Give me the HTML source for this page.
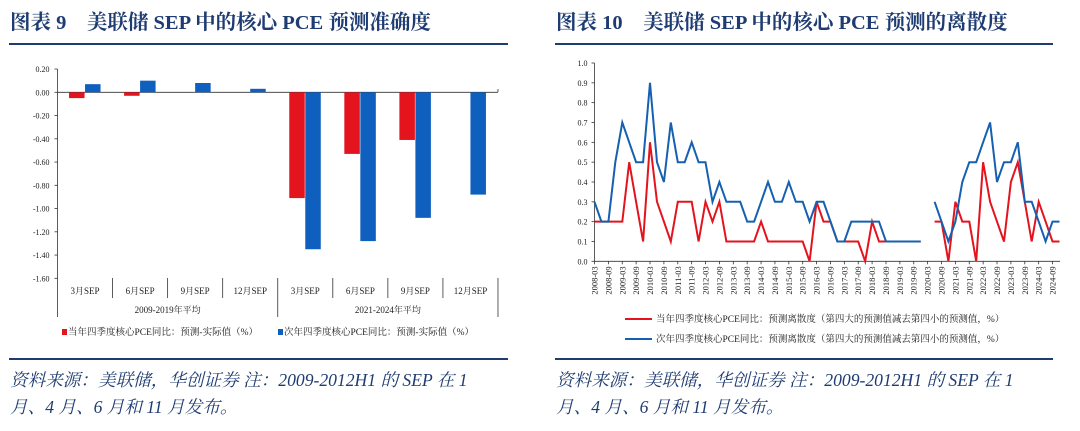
<!DOCTYPE html>
<html><head><meta charset="utf-8">
<style>
body{margin:0;background:#fff;width:1080px;height:431px;overflow:hidden;}
svg{display:block}
.t{font-family:"Liberation Serif","Noto Serif CJK SC",serif;font-weight:bold;font-size:20.5px;fill:#1f3c72}
.f{font-family:"Liberation Serif","Noto Serif CJK SC",serif;font-style:italic;font-size:17.6px;fill:#1f3c72}
.a{font-family:"Liberation Serif","Noto Serif CJK SC",serif;font-size:8px;fill:#222}
.c{font-family:"Liberation Serif","Noto Serif CJK SC",serif;font-size:9px;fill:#222}
.l{font-family:"Liberation Serif","Noto Serif CJK SC",serif;font-size:9.5px;fill:#222}
</style></head><body>
<svg id="s" width="1080" height="431" xmlns="http://www.w3.org/2000/svg">
<text class="t" x="10" y="29">图表 9　美联储 SEP 中的核心 PCE 预测准确度</text>
<text class="t" x="556" y="29">图表 10　美联储 SEP 中的核心 PCE 预测的离散度</text>
<rect x="9" y="43" width="499" height="2" fill="#1f3c72"/>
<rect x="555" y="43" width="498" height="2" fill="#1f3c72"/>
<rect x="9" y="358" width="499" height="2" fill="#1f3c72"/>
<rect x="555" y="358" width="498" height="2" fill="#1f3c72"/>
<text class="f" x="10" y="386">资料来源：美联储，华创证券 注：2009-2012H1 的 SEP 在 1</text>
<text class="f" x="10" y="413">月、4 月、6 月和 11 月发布。</text>
<text class="f" x="556" y="386">资料来源：美联储，华创证券 注：2009-2012H1 的 SEP 在 1</text>
<text class="f" x="556" y="413">月、4 月、6 月和 11 月发布。</text>
<g id="L"></g><g id="R"></g>
</svg>
<script>
var NS="http://www.w3.org/2000/svg";
function el(p,n,a,t){var e=document.createElementNS(NS,n);for(var k in a)e.setAttribute(k,a[k]);if(t!=null)e.textContent=t;p.appendChild(e);return e;}
var L=document.getElementById('L');
var y0=92.3,sc=116.25,x0=57.5,cw=55.06;
function yv(v){return y0-v*sc;}
el(L,'line',{x1:x0,y1:69,x2:x0,y2:317,stroke:'#333','stroke-width':0.8});
for(var i=0;i<10;i++){var v=0.2-0.2*i,y=yv(v);el(L,'line',{x1:x0-3,y1:y,x2:x0,y2:y,stroke:'#333','stroke-width':0.8});
el(L,'text',{x:x0-8,y:y+3,'text-anchor':'end','class':'a'},v.toFixed(2).replace('-0.00','0.00'));}
el(L,'line',{x1:x0,y1:y0,x2:498,y2:y0,stroke:'#333','stroke-width':0.8});
var red=[-0.05,-0.03,0,0,-0.91,-0.53,-0.41,0],blue=[0.07,0.10,0.08,0.03,-1.35,-1.28,-1.08,-0.88];
var labs=['3月SEP','6月SEP','9月SEP','12月SEP'];
for(var i=0;i<8;i++){var c=x0+cw*i+cw/2;
if(red[i])el(L,'rect',{x:c-16,y:Math.min(y0,yv(red[i])),width:15.5,height:Math.abs(red[i]*sc),fill:'#e3141e'});
el(L,'rect',{x:c,y:Math.min(y0,yv(blue[i])),width:15.5,height:Math.abs(blue[i]*sc),fill:'#0f5fbf'});
el(L,'text',{x:c,y:294,'text-anchor':'middle','class':'c'},labs[i%4]);
var xs=x0+cw*(i+1);el(L,'line',{x1:xs,y1:278,x2:xs,y2:(i==3||i==7)?317:298,stroke:'#333','stroke-width':0.8});}
el(L,'line',{x1:498,y1:89,x2:498,y2:92,stroke:'#333','stroke-width':0.8});
el(L,'text',{x:x0+cw*2,y:313,'text-anchor':'middle','class':'c'},'2009-2019年平均');
el(L,'text',{x:x0+cw*6,y:313,'text-anchor':'middle','class':'c'},'2021-2024年平均');
el(L,'rect',{x:62,y:329,width:5,height:6,fill:'#e3141e'});
el(L,'text',{x:68,y:335,'class':'l'},'当年四季度核心PCE同比：预测-实际值（%）');
el(L,'rect',{x:278,y:329,width:5,height:6,fill:'#0f5fbf'});
el(L,'text',{x:284,y:335,'class':'l'},'次年四季度核心PCE同比：预测-实际值（%）');
var R=document.getElementById('R');
var rx0=594.5,dx=6.94,ry0=261.3,rs=198.3;
function ry(v){return ry0-v*rs;}
el(R,'line',{x1:rx0,y1:63,x2:rx0,y2:ry0,stroke:'#333','stroke-width':0.8});
el(R,'line',{x1:rx0,y1:ry0,x2:1060,y2:ry0,stroke:'#333','stroke-width':0.8});
for(var i=0;i<=10;i++){var y=ry(i/10);el(R,'line',{x1:rx0-3,y1:y,x2:rx0,y2:y,stroke:'#333','stroke-width':0.8});
el(R,'text',{x:rx0-7,y:y+3,'text-anchor':'end','class':'a'},(i/10).toFixed(1));}
for(var j=0;j<34;j++){var x=rx0+dx*2*j;var yr=2008+Math.floor(j/2),m=j%2?'09':'03';
el(R,'line',{x1:x,y1:ry0,x2:x,y2:ry0+3,stroke:'#333','stroke-width':0.8});
el(R,'text',{'class':'a',transform:'translate('+(x+3)+','+(ry0+5)+') rotate(-90)','text-anchor':'end',style:'font-size:8.5px'},yr+'-'+m);}
var B=[.3,.2,.2,.5,.7,.6,.5,.5,.9,.5,.4,.7,.5,.5,.6,.5,.5,.3,.4,.3,.3,.3,.2,.2,.3,.4,.3,.3,.4,.3,.3,.2,.3,.3,.2,.1,.1,.2,.2,.2,.2,.2,.1,.1,.1,.1,.1,.1,null,.3,.2,.1,.2,.4,.5,.5,.6,.7,.4,.5,.5,.6,.3,.3,.2,.1,.2,.2];
var Rd=[.2,.2,.2,.2,.2,.5,.3,.1,.6,.3,.2,.1,.3,.3,.3,.1,.3,.2,.3,.1,.1,.1,.1,.1,.2,.1,.1,.1,.1,.1,.1,0,.3,.2,.2,.1,.1,.1,.1,0,.2,.1,.1,.1,.1,.1,.1,.1,null,.2,.2,0,.3,.2,.2,0,.5,.3,.2,.1,.4,.5,.3,.1,.3,.2,.1,.1];
function draw(d,col){var seg=[];function fl(){if(seg.length)el(R,'polyline',{points:seg.join(' '),fill:'none',stroke:col,'stroke-width':2,'stroke-linejoin':'miter'});seg=[];}
for(var i=0;i<d.length;i++){if(d[i]==null){fl();continue;}seg.push((rx0+dx*i).toFixed(1)+','+ry(d[i]).toFixed(1));}fl();}
draw(Rd,'#e3141e');draw(B,'#1560b0');
el(R,'line',{x1:625,y1:319,x2:652,y2:319,stroke:'#e3141e','stroke-width':2});
el(R,'text',{x:656,y:322,'class':'l'},'当年四季度核心PCE同比：预测离散度（第四大的预测值减去第四小的预测值，%）');
el(R,'line',{x1:625,y1:339,x2:652,y2:339,stroke:'#1560b0','stroke-width':2});
el(R,'text',{x:656,y:342,'class':'l'},'次年四季度核心PCE同比：预测离散度（第四大的预测值减去第四小的预测值，%）');
</script>
</body></html>
